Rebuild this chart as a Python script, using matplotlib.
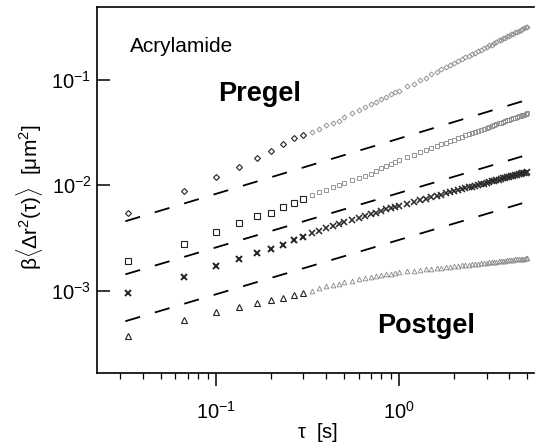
import matplotlib
matplotlib.use('Agg')
import matplotlib.pyplot as plt
from matplotlib.ticker import LogLocator, NullLocator, LogFormatterSciNotation, NullFormatter

# ---- data ----
tau = [0.033, 0.067, 0.1, 0.133, 0.167, 0.2, 0.233, 0.267, 0.3, 0.333,
       0.367, 0.4, 0.433, 0.467, 0.5, 0.55, 0.6, 0.65, 0.7, 0.75,
       0.8, 0.85, 0.9, 0.95, 1.0, 1.1, 1.2, 1.3, 1.4, 1.5,
       1.6, 1.7, 1.8, 1.9, 2.0, 2.1, 2.2, 2.3, 2.4, 2.5,
       2.6, 2.7, 2.8, 2.9, 3.0, 3.1, 3.2, 3.3, 3.4, 3.5,
       3.6, 3.7, 3.8, 3.9, 4.0, 4.1, 4.2, 4.3, 4.4, 4.5,
       4.6, 4.7, 4.8, 4.9, 5.0]

diamond = [0.0054, 0.0088, 0.0119, 0.0148, 0.018, 0.021, 0.0245, 0.028, 0.030, 0.032,
           0.034, 0.037, 0.039, 0.041, 0.044, 0.048, 0.052, 0.055, 0.059, 0.062,
           0.066, 0.069, 0.073, 0.076, 0.079, 0.087, 0.092, 0.100, 0.105, 0.113,
           0.118, 0.126, 0.131, 0.139, 0.143, 0.152, 0.156, 0.164, 0.168, 0.177,
           0.180, 0.188, 0.192, 0.201, 0.204, 0.213, 0.216, 0.225, 0.228, 0.236,
           0.239, 0.248, 0.251, 0.259, 0.262, 0.271, 0.273, 0.282, 0.285, 0.293,
           0.296, 0.304, 0.307, 0.315, 0.320]

square = [0.0019, 0.0028, 0.0036, 0.0044, 0.0051, 0.0055, 0.0062, 0.0068, 0.0074, 0.0081,
          0.0086, 0.0091, 0.0096, 0.0100, 0.0105, 0.0111, 0.0117, 0.0123, 0.0129, 0.0137,
          0.0145, 0.0152, 0.0160, 0.0166, 0.0172, 0.0187, 0.0195, 0.0208, 0.0215, 0.0227,
          0.0234, 0.0245, 0.0252, 0.0263, 0.0270, 0.0281, 0.0287, 0.0297, 0.0303, 0.0313,
          0.0319, 0.0328, 0.0334, 0.0343, 0.0349, 0.0358, 0.0363, 0.0372, 0.0377, 0.0386,
          0.0391, 0.0400, 0.0405, 0.0413, 0.0418, 0.0426, 0.0431, 0.0439, 0.0444, 0.0452,
          0.0456, 0.0464, 0.0468, 0.0476, 0.0481]

cross = [0.00095, 0.00135, 0.0017, 0.0020, 0.00227, 0.0025, 0.0027, 0.0030, 0.0032, 0.0035,
         0.0037, 0.0039, 0.0041, 0.0043, 0.0045, 0.0047, 0.0049, 0.0051, 0.0053, 0.0055,
         0.0057, 0.0059, 0.0061, 0.0062, 0.0064, 0.00668, 0.00695, 0.00721, 0.00746, 0.0077,
         0.00793, 0.00815, 0.00836, 0.00857, 0.00877, 0.00897, 0.00916, 0.00935, 0.00953, 0.00971,
         0.00989, 0.01005, 0.01023, 0.01039, 0.01055, 0.01071, 0.01087, 0.01101, 0.01117, 0.01132,
         0.01146, 0.0116, 0.01174, 0.01188, 0.01202, 0.01215, 0.01229, 0.01242, 0.01255, 0.01268,
         0.01281, 0.01293, 0.01306, 0.01318, 0.0133]

triangle = [0.00037, 0.00053, 0.00063, 0.00070, 0.00076, 0.00081, 0.00085, 0.00091, 0.00095, 0.00100,
            0.00106, 0.00110, 0.00113, 0.00117, 0.00120, 0.00125, 0.00129, 0.00133, 0.00136, 0.00139,
            0.00141, 0.00143, 0.00145, 0.00148, 0.00150, 0.00153, 0.00155, 0.00158, 0.00160, 0.00162,
            0.00164, 0.00166, 0.00168, 0.00169, 0.00171, 0.00173, 0.00174, 0.00176, 0.00177, 0.00179,
            0.00180, 0.00181, 0.00182, 0.00184, 0.00185, 0.00186, 0.00187, 0.00188, 0.00189, 0.00190,
            0.00191, 0.00192, 0.00193, 0.00194, 0.00195, 0.00196, 0.00197, 0.00198, 0.00199, 0.00200,
            0.00200, 0.00201, 0.00202, 0.00203, 0.00204]

guide_tau = [0.032, 4.7]
guide_hi = [0.00456, 0.0625]
guide_mid = [0.00143, 0.0188]
guide_lo = [0.000514, 0.00675]

# ---- style ----
plt.rcParams.update({
    'font.family': ['Liberation Sans', 'DejaVu Sans'],
    'mathtext.fontset': 'custom',
    'mathtext.rm': 'Liberation Sans',
    'mathtext.it': 'Liberation Sans:italic',
    'mathtext.bf': 'Liberation Sans:bold',
    'axes.unicode_minus': False,
})

W, H = 535, 442
fig = plt.figure(figsize=(W / 100, H / 100), dpi=100)
ax = fig.add_axes([97 / W, 1 - 373 / H, 437 / W, 366 / H])
ax.set_xscale('log')
ax.set_yscale('log')
ax.set_xlim(0.0224, 5.45)
ax.set_ylim(1.66e-4, 0.49)

split = 9  # early, clearly separated markers vs dense tail
series = [
    # values, marker, size, early colour, tail colour, edge width, tail size factor
    (diamond, 'D', 3.0, '#222222', '#8c8c8c', 0.8, 0.85),
    (square, 's', 4.0, '#222222', '#8c8c8c', 0.8, 0.85),
    (cross, 'x', 3.8, '#222222', '#2a2a2a', 1.4, 1.1),
    (triangle, '^', 4.0, '#222222', '#8c8c8c', 0.8, 0.85),
]
for vals, mk, ms, c1, c2, mew, f in series:
    ax.plot(tau[:split], vals[:split], linestyle='none', marker=mk, ms=ms,
            mfc='none', mec=c1, mew=mew)
    ax.plot(tau[split:], vals[split:], linestyle='none', marker=mk, ms=ms * f,
            mfc='none', mec=c2, mew=mew * 0.8)

for g in (guide_hi, guide_mid, guide_lo):
    ax.plot(guide_tau, g, color='black', lw=1.3, dashes=(8.5, 8.5))

for s in ('left', 'bottom', 'top'):
    ax.spines[s].set_linewidth(1.2)
ax.spines['right'].set_visible(False)

ax.yaxis.set_major_locator(LogLocator(base=10, numticks=10))
ax.yaxis.set_minor_locator(NullLocator())
ax.xaxis.set_major_locator(LogLocator(base=10, numticks=10))
ax.xaxis.set_minor_locator(LogLocator(base=10, subs=range(2, 10), numticks=20))
ax.xaxis.set_minor_formatter(NullFormatter())
ax.yaxis.set_major_formatter(LogFormatterSciNotation())
ax.xaxis.set_major_formatter(LogFormatterSciNotation())

ax.tick_params(axis='y', which='major', direction='in', length=9, width=1.1,
               labelsize=14.5, pad=4, right=False)
ax.tick_params(axis='x', which='major', direction='out', length=9, width=1.1,
               labelsize=14.5, pad=11, top=False)
ax.tick_params(axis='x', which='minor', direction='out', length=4, width=0.9, top=False)

# labels
fig.text(318 / W, 1 - 432 / H, r'$\mathrm{\tau}$  [s]', ha='center', va='center', fontsize=14.5)
fig.text(30 / W, 1 - 197 / H,
         r'$\mathrm{\beta\langle\Delta r^2(\tau)\rangle}$  [$\mathrm{\mu m^2}$]',
         ha='center', va='center', rotation=90, fontsize=15)

fig.text(130 / W, 1 - 47 / H, 'Acrylamide', ha='left', va='center', fontsize=15)
fig.text(218 / W, 1 - 101 / H, 'Pregel', ha='left', va='baseline', fontsize=19.5,
         fontweight='bold')
fig.text(377 / W, 1 - 333 / H, 'Postgel', ha='left', va='baseline', fontsize=19.5,
         fontweight='bold')

fig.savefig('out.png', dpi=100)
